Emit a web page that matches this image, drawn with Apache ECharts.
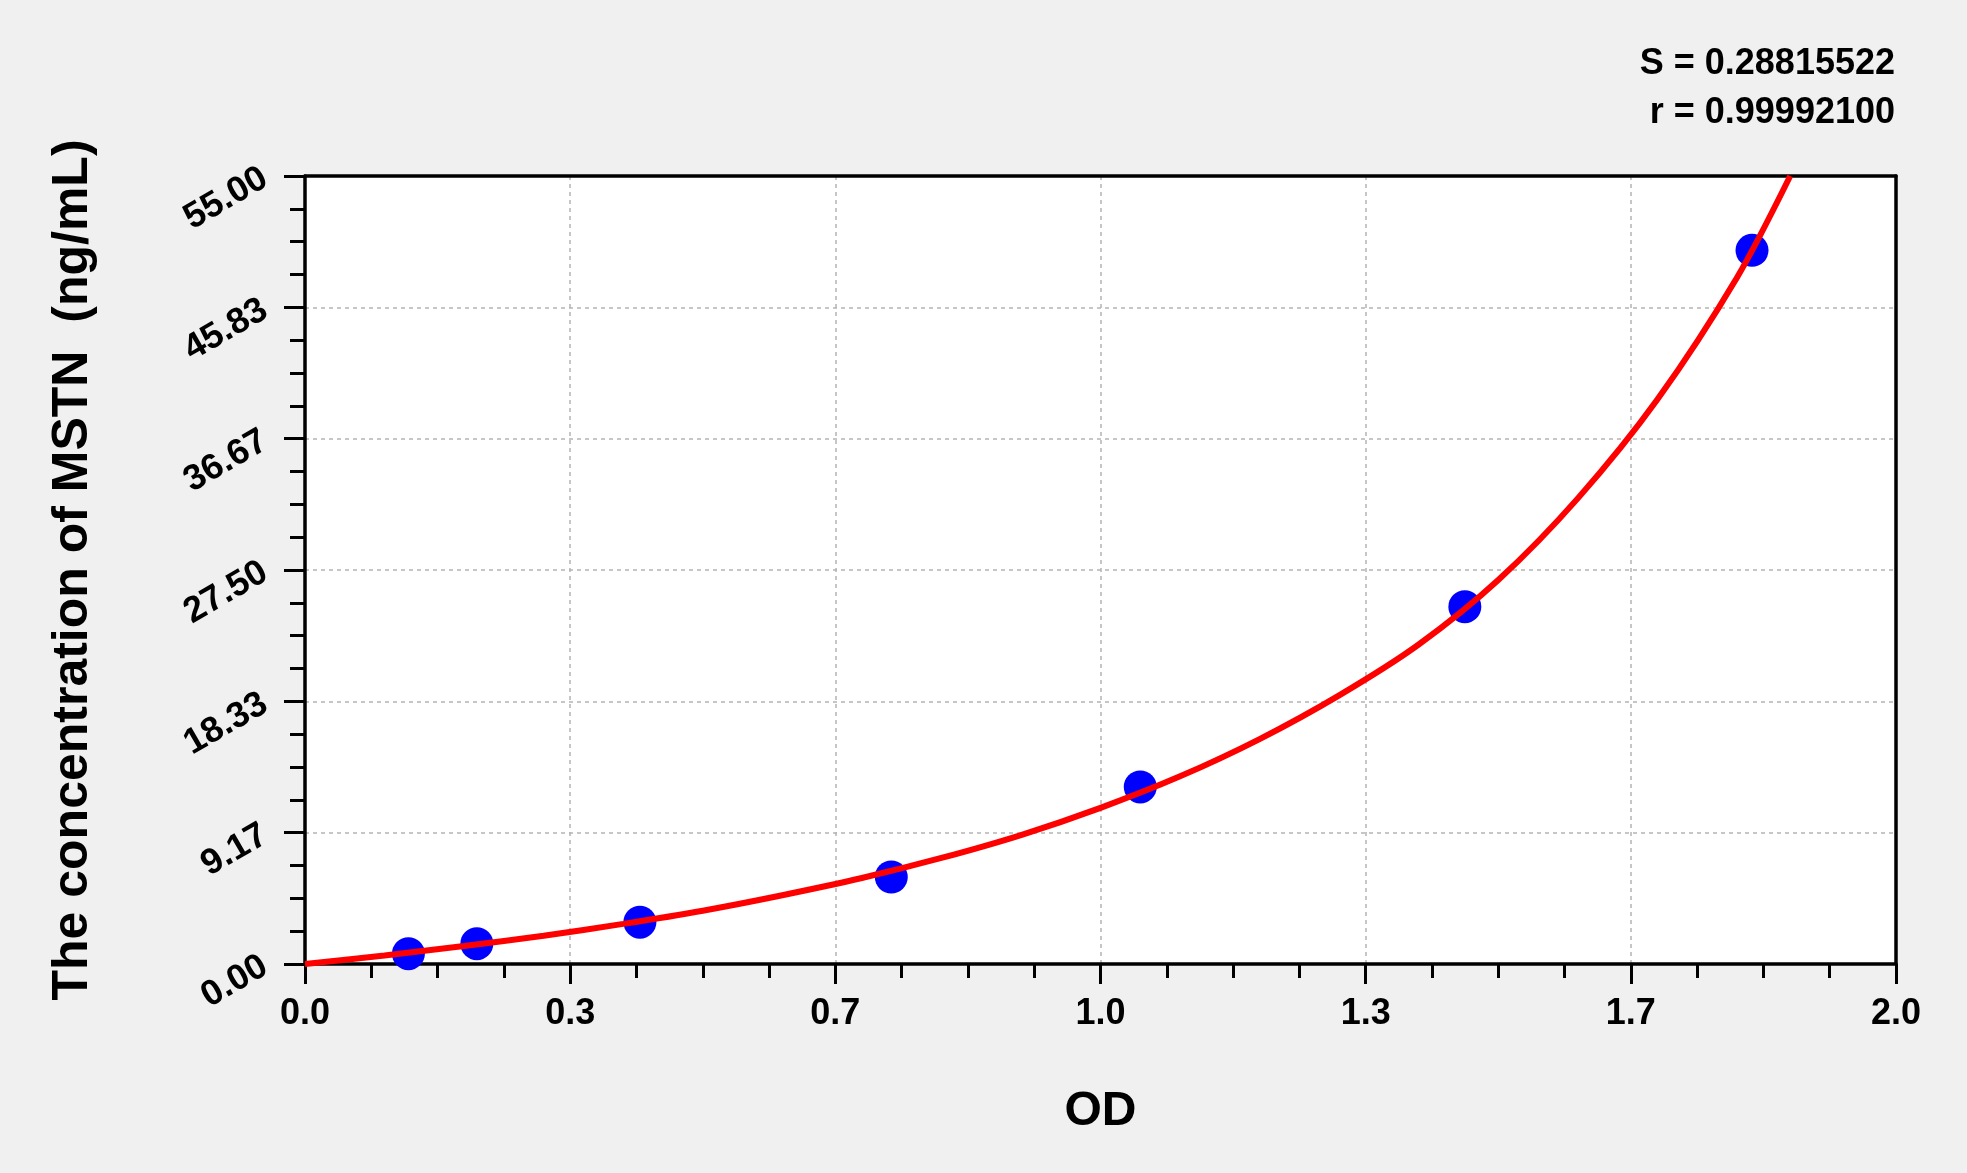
<!DOCTYPE html>
<html>
<head>
<meta charset="utf-8">
<script src="https://cdn.jsdelivr.net/npm/echarts@6/dist/echarts.min.js"></script>
<style>
  html, body { margin: 0; padding: 0; background: #f0f0f0; }
  #chart { width: 1967px; height: 1173px; }
</style>
</head>
<body>
<div id="chart"></div>
<script>
// standards (OD, concentration)
var odPoints = [0.130, 0.216, 0.421, 0.737, 1.050, 1.458, 1.819];
var concPoints = [0.72, 1.42, 2.92, 6.07, 12.36, 24.94, 49.81];

// fitted curve, sampled from the red line
var curveOd = [0, 0.1, 0.2, 0.3, 0.4, 0.5, 0.6, 0.7, 0.8, 0.9, 1.0, 1.1, 1.2, 1.3, 1.4, 1.5, 1.6, 1.7, 1.8, 1.867];
var curveConc = [0, 0.6, 1.25, 1.97, 2.8, 3.72, 4.8, 6.0, 7.4, 9.0, 10.9, 13.1, 15.7, 18.75, 22.3, 26.8, 32.5, 39.4, 47.9, 55];

var fitText = ['S = 0.28815522', 'r = 0.99992100'];
var xName = 'OD';
var yName = 'The concentration of MSTN  (ng/mL)';

var FONT = 'Liberation Sans, Arial, sans-serif';

var chart = echarts.init(document.getElementById('chart'));

var scatterData = odPoints.map(function (v, i) { return [v, concPoints[i]]; });
var curveData = curveOd.map(function (v, i) { return [v, curveConc[i]]; });

var gridLine = { show: true, lineStyle: { color: '#b4b4b4', width: 1.5, type: [4, 4] } };
var frameLine = { show: true, onZero: false, lineStyle: { color: '#000', width: 3.5 } };

var option = {
    backgroundColor: '#f0f0f0',
    animation: false,
    grid: {
        left: 305,
        right: 71,
        top: 176,
        bottom: 209,
        show: true,
        backgroundColor: '#ffffff',
        borderWidth: 0
    },
    graphic: [
        {
            type: 'text',
            right: 72,
            top: 46,
            style: {
                text: fitText[0],
                font: 'bold 36px ' + FONT,
                fill: '#000000',
                textAlign: 'right'
            }
        },
        {
            type: 'text',
            right: 72,
            top: 95,
            style: {
                text: fitText[1],
                font: 'bold 36px ' + FONT,
                fill: '#000000',
                textAlign: 'right'
            }
        }
    ],
    xAxis: [
        {
            type: 'value',
            min: 0,
            max: 2,
            interval: 1 / 3,
            name: xName,
            nameLocation: 'middle',
            nameGap: 124,
            nameTextStyle: { fontSize: 48, fontWeight: 'bold', fontFamily: FONT, color: '#000' },
            axisLine: frameLine,
            axisTick: { show: true, length: 20, lineStyle: { color: '#000', width: 3 } },
            minorTick: { show: true, splitNumber: 4, length: 14, lineStyle: { color: '#000', width: 3 } },
            axisLabel: {
                margin: 32,
                fontSize: 36,
                fontWeight: 'bold',
                fontFamily: FONT,
                color: '#000',
                formatter: function (v) { return v.toFixed(1); }
            },
            splitLine: gridLine
        },
        {
            type: 'value',
            position: 'top',
            min: 0,
            max: 2,
            axisLine: frameLine,
            axisTick: { show: false },
            axisLabel: { show: false },
            splitLine: { show: false }
        }
    ],
    yAxis: [
        {
            type: 'value',
            min: 0,
            max: 55,
            interval: 55 / 6,
            name: yName,
            nameLocation: 'middle',
            nameRotate: 90,
            nameGap: 207,
            nameTextStyle: { fontSize: 50, fontWeight: 'bold', fontFamily: FONT, color: '#000' },
            axisLine: frameLine,
            axisTick: { show: true, length: 21, lineStyle: { color: '#000', width: 3 } },
            minorTick: { show: true, splitNumber: 4, length: 15, lineStyle: { color: '#000', width: 3 } },
            axisLabel: {
                margin: 40,
                rotate: 30,
                fontSize: 36,
                fontWeight: 'bold',
                fontFamily: FONT,
                color: '#000',
                formatter: function (v) { return v.toFixed(2); }
            },
            splitLine: gridLine
        },
        {
            type: 'value',
            position: 'right',
            min: 0,
            max: 55,
            axisLine: frameLine,
            axisTick: { show: false },
            axisLabel: { show: false },
            splitLine: { show: false }
        }
    ],
    series: [
        {
            name: 'Standards',
            type: 'scatter',
            data: scatterData,
            symbol: 'circle',
            symbolSize: 33,
            itemStyle: { color: '#0000ff', opacity: 1 },
            z: 2
        },
        {
            name: 'Fit',
            type: 'line',
            data: curveData,
            smooth: 0.3,
            showSymbol: false,
            lineStyle: { color: '#ff0000', width: 6 },
            z: 3
        }
    ]
};

chart.setOption(option);
</script>
</body>
</html>
